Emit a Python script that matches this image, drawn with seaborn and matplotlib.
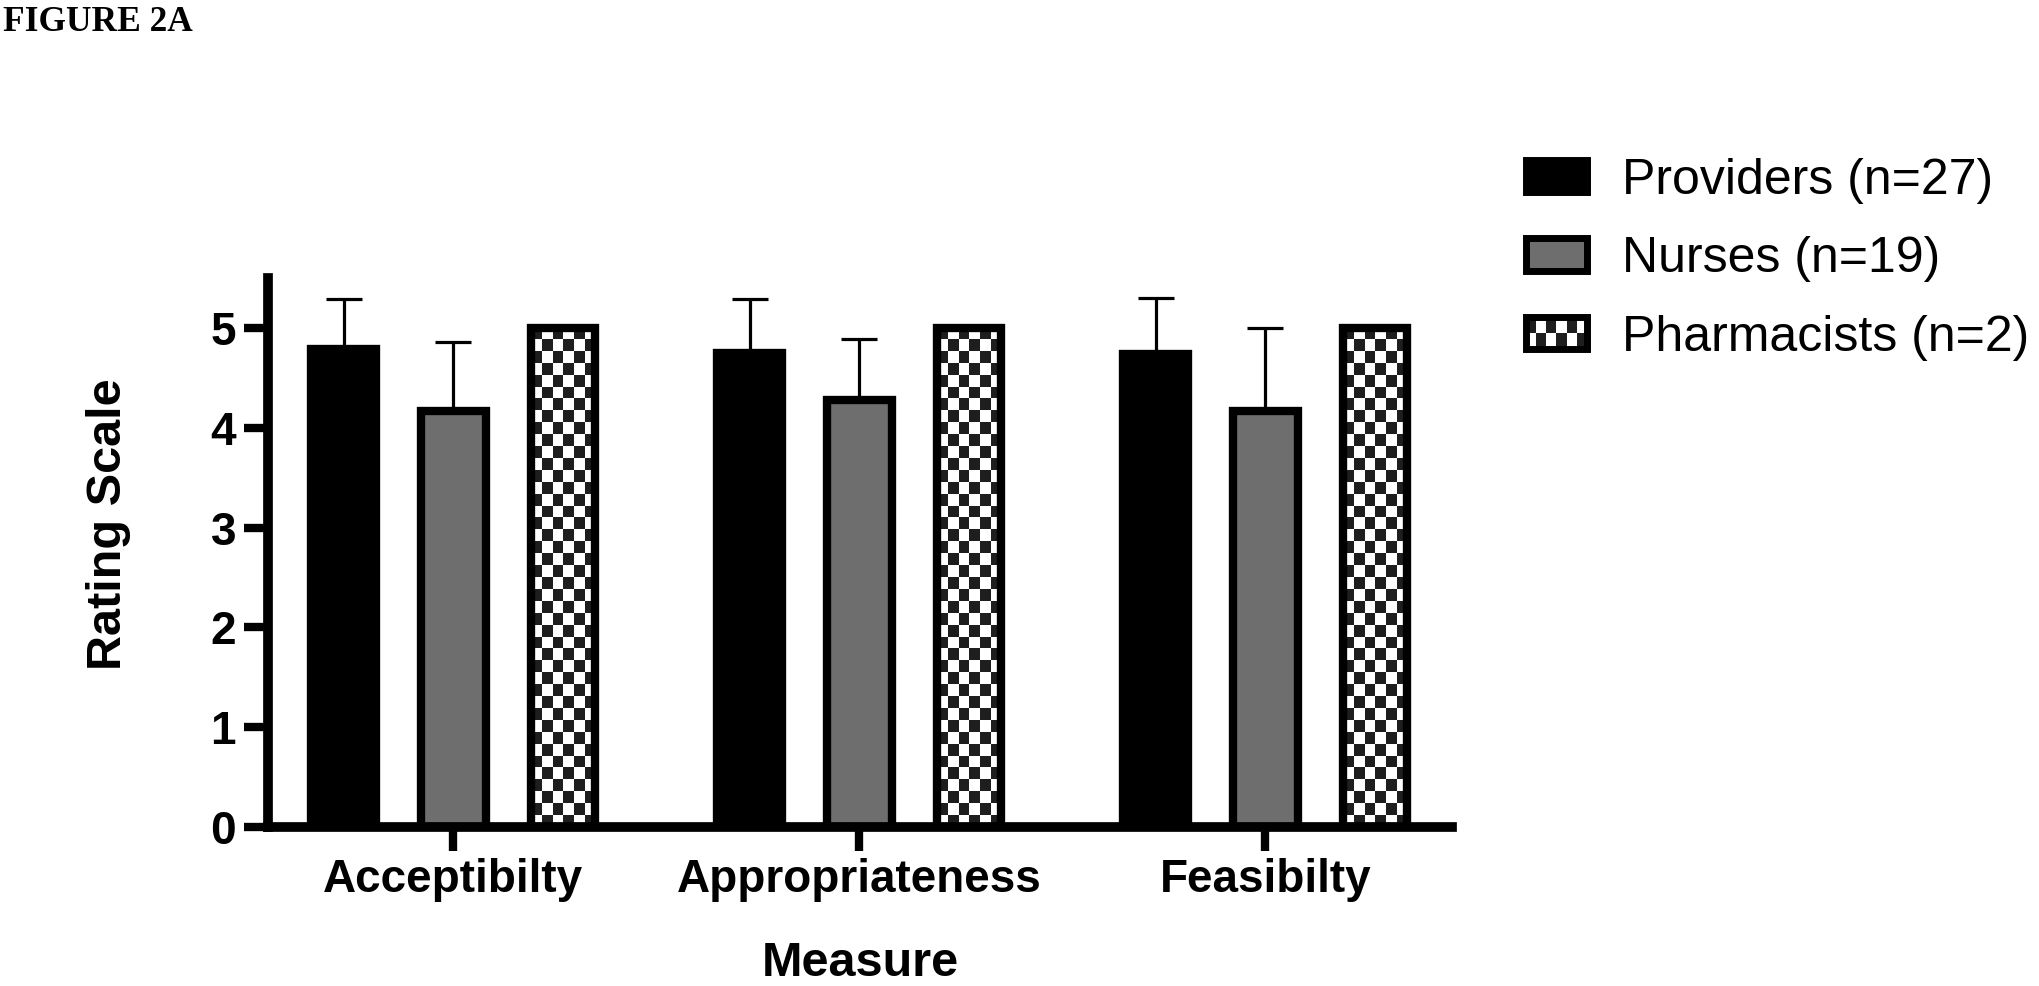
import numpy as np
import pandas as pd
import matplotlib
matplotlib.use("Agg")
import matplotlib.pyplot as plt
import seaborn as sns
from matplotlib.patches import Rectangle
from matplotlib.colors import ListedColormap
from matplotlib.legend_handler import HandlerBase

# ---------------- data ----------------
measures = ["Acceptibilty", "Appropriateness", "Feasibilty"]
groups = ["Providers (n=27)", "Nurses (n=19)", "Pharmacists (n=2)"]
providers_mean = [4.79, 4.75, 4.74]
providers_sd = [0.50, 0.54, 0.56]
nurses_mean = [4.17, 4.28, 4.17]
nurses_sd = [0.69, 0.61, 0.83]
pharm_mean = [5.0, 5.0, 5.0]
y_ticks = [0, 1, 2, 3, 4, 5]

BLACK = "#000000"
GRAY = "#6e6e6e"
DARK = "#1e1e1e"

sns.set_theme(style="ticks")
plt.rcParams["font.family"] = ["Liberation Sans", "DejaVu Sans"]
plt.rcParams["text.color"] = "black"

fig = plt.figure(figsize=(20.4, 9.86), dpi=100)
ax = fig.add_axes([0.1314, 0.1613, 0.5804, 0.5567])

df = pd.DataFrame({
    "Measure": measures * 3,
    "Rating": providers_mean + nurses_mean + pharm_mean,
    "Group": [g for g in groups for _ in measures],
})

sns.barplot(data=df, x="Measure", y="Rating", hue="Group", order=measures,
            hue_order=groups, palette=[BLACK, GRAY, "white"], saturation=1,
            width=0.81, gap=0.41, errorbar=None, linewidth=6,
            edgecolor="black", legend=False, ax=ax)

# error bars (upper only)
for cont, means, sds in zip(ax.containers[:2], [providers_mean, nurses_mean],
                            [providers_sd, nurses_sd]):
    xs = [p.get_x() + p.get_width() / 2 for p in cont]
    ax.errorbar(xs, means, yerr=[np.zeros(len(sds)), sds], fmt="none",
                ecolor="black", elinewidth=2.3, capsize=13, capthick=2.3,
                zorder=3)

# checkerboard fill for pharmacists
cmap = ListedColormap(["white", DARK])
for p in ax.containers[2]:
    x0, w, h = p.get_x(), p.get_width(), p.get_height()
    nrows = int(round(h / 0.12))
    ncols = 6
    arr = np.add.outer(np.arange(nrows), np.arange(ncols)) % 2
    ax.imshow(arr, extent=[x0, x0 + w, 0, h], origin="lower", cmap=cmap,
              interpolation="nearest", aspect="auto", zorder=p.get_zorder() - 0.01)
    p.set_facecolor("none")

ax.set_xlim(-0.456, 2.46)
ax.set_ylim(0, 5.5)

sns.despine(ax=ax)
for s in ["left", "bottom"]:
    ax.spines[s].set_linewidth(7)
    ax.spines[s].set_color("black")
    ax.spines[s].set_capstyle("projecting")

ax.set_yticks(y_ticks)
ax.set_yticklabels([str(t) for t in y_ticks], fontweight="bold", fontsize=33)
ax.set_xticks(range(len(measures)))
ax.set_xticklabels(measures, fontweight="bold", fontsize=33)
ax.tick_params(axis="both", width=6, length=17, color="black", labelcolor="black")
ax.tick_params(axis="y", pad=6)
ax.tick_params(axis="x", pad=5)

ax.set_xlabel("Measure", fontsize=35, fontweight="bold", color="black", va="center")
ax.xaxis.set_label_coords(0.5, -0.248)
ax.set_ylabel("Rating Scale", fontsize=35, fontweight="bold", color="black",
              va="center", ha="center")
ax.yaxis.set_label_coords(-0.135, 0.552)

fig.text(0.0015, 0.994, "FIGURE 2A", family=["Liberation Serif"], fontweight="bold",
         fontsize=25.5, va="top", ha="left", color="black")


class CheckerHandler(HandlerBase):
    def create_artists(self, legend, orig_handle, xdescent, ydescent, width,
                       height, fontsize, trans):
        x0, y0 = -xdescent, -ydescent
        arts = []
        ncols, nrows = 6, 2
        cw, ch = width / ncols, height / nrows
        for i in range(nrows):
            for j in range(ncols):
                c = DARK if (i + j) % 2 else "white"
                arts.append(Rectangle((x0 + j * cw, y0 + i * ch), cw, ch,
                                      facecolor=c, edgecolor="none", transform=trans))
        arts.append(Rectangle((x0, y0), width, height, facecolor="none",
                              edgecolor="black", lw=orig_handle.get_linewidth(),
                              transform=trans))
        return arts


h1 = Rectangle((0, 0), 1, 1, facecolor=BLACK, edgecolor="black", lw=5)
h2 = Rectangle((0, 0), 1, 1, facecolor=GRAY, edgecolor="black", lw=5)
h3 = Rectangle((0, 0), 1, 1, facecolor="white", edgecolor="black", lw=5)
leg = fig.legend([h1, h2, h3], groups, loc="upper left", bbox_to_anchor=(0.748, 0.840),
                 frameon=False, fontsize=36, handlelength=1.22, handleheight=0.62,
                 labelspacing=0.65, handletextpad=0.7, borderaxespad=0, borderpad=0,
                 handler_map={h3: CheckerHandler()})
for t in leg.get_texts():
    t.set_color("black")

fig.savefig("out.png", dpi=100, facecolor="white")
